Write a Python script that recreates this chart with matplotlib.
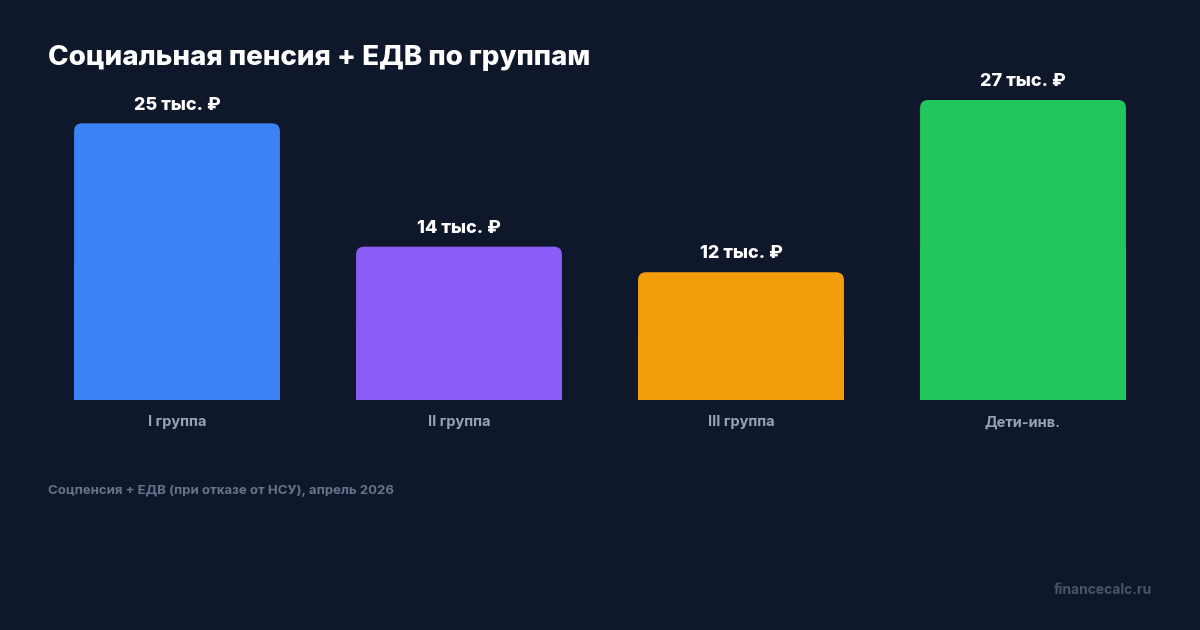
import matplotlib.pyplot as plt
from matplotlib.patches import FancyBboxPatch, Rectangle

plt.rcParams['font.family'] = ['Inter', 'DejaVu Sans']

categories = ['I группа', 'II группа', 'III группа', 'Дети-инв.']
values = [24.9, 13.8, 11.5, 27.0]  # тыс. руб.
value_labels = ['25 тыс. ₽', '14 тыс. ₽', '12 тыс. ₽', '27 тыс. ₽']
colors = ['#3b82f6', '#8b5cf6', '#f59e0b', '#22c55e']

bg = '#0f172a'
W, H = 1200, 630

fig = plt.figure(figsize=(12, 6.3), dpi=100, facecolor=bg)
ax = fig.add_axes([36 / W, 1 - 400 / H, 1128 / W, 300 / H])
ax.set_facecolor(bg)
ax.set_xlim(-0.5, 3.5)
ax.set_ylim(0, 27.0)

width = 0.73
bars = ax.bar(range(len(values)), values, width=width, color=colors)

# rounded top corners
fig.canvas.draw()
px_x = ax.transData.transform((1, 0))[0] - ax.transData.transform((0, 0))[0]
px_y = ax.transData.transform((0, 1))[1] - ax.transData.transform((0, 0))[1]
r = 8 / px_x
aspect = px_x / px_y
for b, c in zip(bars, colors):
    x0, w, h = b.get_x(), b.get_width(), b.get_height()
    b.set_visible(False)
    ax.add_patch(FancyBboxPatch((x0, 0), w, h,
                                boxstyle=f'round,pad=0,rounding_size={r}',
                                mutation_aspect=aspect, fc=c, ec='none'))
    ax.add_patch(Rectangle((x0, 0), w, h / 2, fc=c, ec='none'))

for i, (v, lab) in enumerate(zip(values, value_labels)):
    ax.annotate(lab, (i, v), xytext=(0, 7), textcoords='offset points',
                ha='center', va='bottom', color='white', fontsize=13,
                fontweight='heavy', annotation_clip=False)

ax.set_xticks(range(len(categories)))
ax.set_xticklabels(categories, color='#94a3b8', fontsize=10.5, fontweight='bold')
ax.tick_params(axis='x', length=0, pad=11)
ax.set_yticks([])
for s in ax.spines.values():
    s.set_visible(False)

fig.text(48 / W, 1 - 58 / H, 'Социальная пенсия + ЕДВ по группам', color='white',
         fontsize=20, fontweight='heavy', va='center', ha='left')
fig.text(48 / W, 1 - 491 / H, 'Соцпенсия + ЕДВ (при отказе от НСУ), апрель 2026',
         color='#64748b', fontsize=9.5, fontweight='bold', va='center', ha='left')
fig.text(1152 / W, 1 - 590 / H, 'financecalc.ru', color='#475569',
         fontsize=10, fontweight='bold', va='center', ha='right')

fig.savefig('out.png', facecolor=bg)
